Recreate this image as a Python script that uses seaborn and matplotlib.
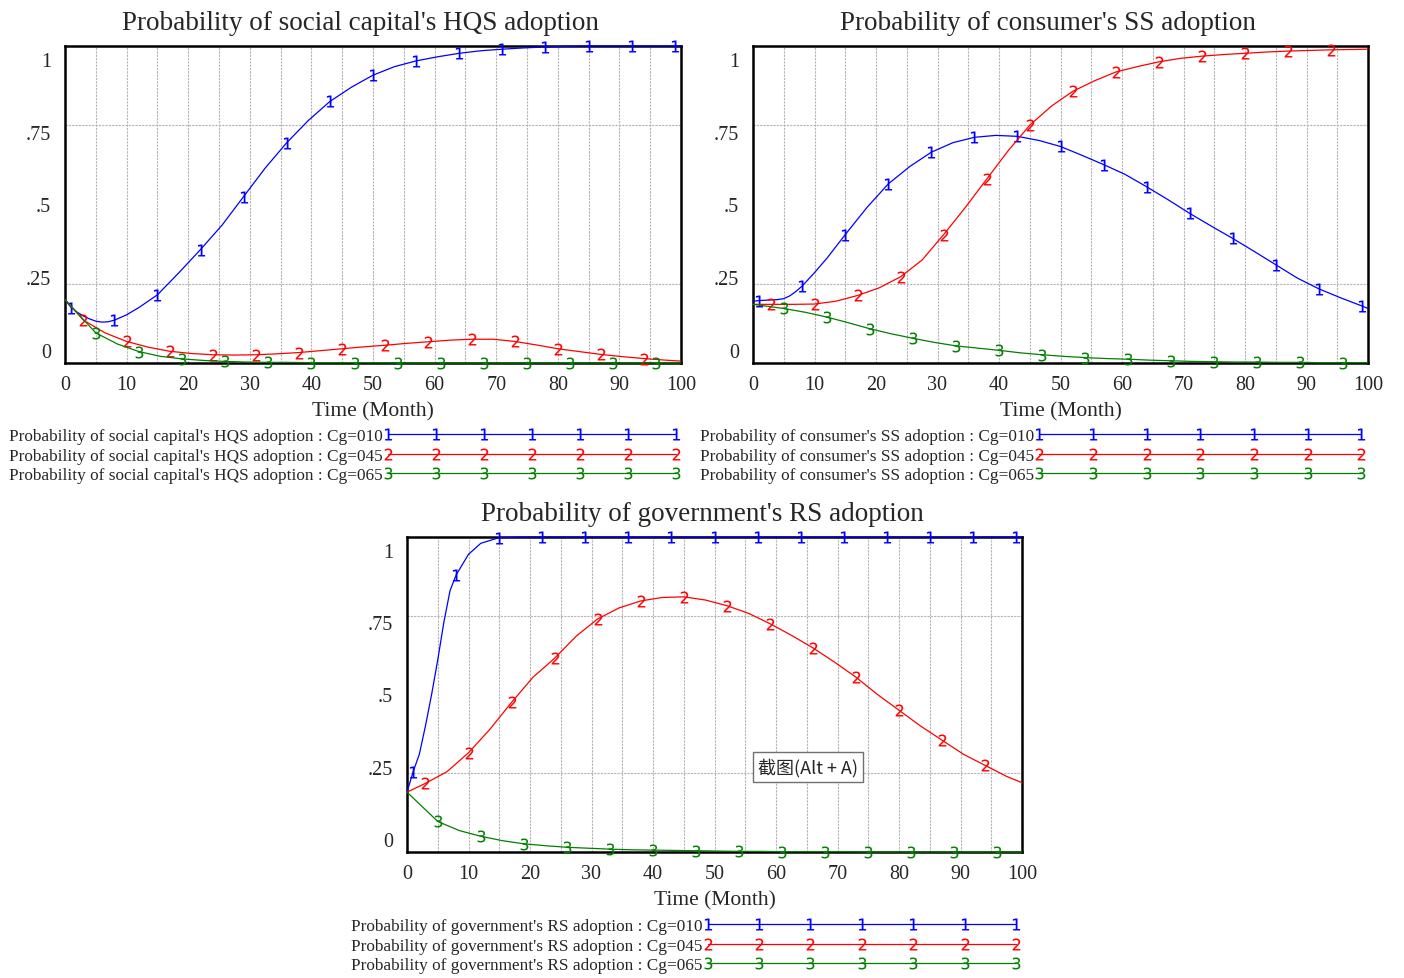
import numpy as np
import pandas as pd
import matplotlib.pyplot as plt
import seaborn as sns
from matplotlib.lines import Line2D

# ============================================================
# DATA
# ============================================================

# time points (month) of each run
T_010 = [0, 1, 2, 3, 4, 5, 6, 7, 8, 10, 12, 15, 18.5, 22, 25.5, 29, 32.5, 36,
         39.5, 43, 46.5, 50, 53.5, 57, 60.5, 64, 67.5, 71, 74.5, 78, 81.5, 85,
         88.5, 92, 95.5, 99, 100]
T_045 = [0, 3, 6.5, 10, 13.5, 17, 20.5, 24, 27.5, 31, 34.5, 38, 41.5, 45, 48.5,
         52, 55.5, 59, 62.5, 66, 69.5, 73, 76.5, 80, 83.5, 87, 90.5, 94, 97.5, 100]
T_065 = [0, 5, 8.5, 12, 15.5, 19, 22.5, 26, 29.5, 33, 36.5, 40, 43.5, 47, 50.5,
         54, 57.5, 61, 64.5, 68, 71.5, 75, 78.5, 82, 85.5, 89, 92.5, 96, 99.5, 100]

# social capital's HQS adoption
HQS_010 = [0.200, 0.175, 0.160, 0.148, 0.139, 0.132, 0.129, 0.130, 0.135, 0.152,
           0.175, 0.215, 0.285, 0.358, 0.435, 0.525, 0.615, 0.695, 0.765, 0.825,
           0.870, 0.908, 0.935, 0.953, 0.966, 0.977, 0.985, 0.990, 0.994, 0.997,
           0.999, 1.0, 1.0, 1.0, 1.0, 1.0, 1.0]
HQS_045 = [0.200, 0.135, 0.095, 0.068, 0.050, 0.037, 0.030, 0.026, 0.025, 0.026,
           0.029, 0.033, 0.039, 0.045, 0.051, 0.056, 0.062, 0.067, 0.072, 0.075,
           0.075, 0.068, 0.057, 0.045, 0.036, 0.027, 0.020, 0.014, 0.009, 0.006]
HQS_065 = [0.200, 0.095, 0.060, 0.036, 0.021, 0.013, 0.008, 0.005, 0.003, 0.002,
           0.002, 0.001, 0.001, 0.001, 0.001, 0.0, 0.0, 0.0, 0.0, 0.0,
           0.0, 0.0, 0.0, 0.0, 0.0, 0.0, 0.0, 0.0, 0.0, 0.0]

# consumer's SS adoption
SS_010 = [0.195, 0.197, 0.198, 0.199, 0.200, 0.203, 0.212, 0.226, 0.243, 0.285,
          0.330, 0.405, 0.490, 0.565, 0.620, 0.665, 0.695, 0.712, 0.718, 0.715,
          0.702, 0.683, 0.655, 0.626, 0.595, 0.556, 0.515, 0.472, 0.432, 0.393,
          0.352, 0.310, 0.268, 0.234, 0.206, 0.180, 0.172]
SS_045 = [0.185, 0.185, 0.185, 0.186, 0.195, 0.213, 0.237, 0.272, 0.325, 0.405,
          0.490, 0.580, 0.670, 0.750, 0.810, 0.857, 0.890, 0.918, 0.935, 0.950,
          0.961, 0.968, 0.973, 0.977, 0.981, 0.984, 0.986, 0.988, 0.989, 0.990]
SS_065 = [0.185, 0.172, 0.160, 0.145, 0.127, 0.108, 0.092, 0.078, 0.065, 0.054,
          0.047, 0.040, 0.032, 0.026, 0.021, 0.017, 0.014, 0.012, 0.009, 0.007,
          0.005, 0.004, 0.003, 0.003, 0.002, 0.002, 0.001, 0.001, 0.001, 0.001]

# government's RS adoption
RS_010 = [0.190, 0.255, 0.310, 0.400, 0.500, 0.610, 0.730, 0.830, 0.880, 0.945,
          0.980, 0.998, 1.0, 1.0, 1.0, 1.0, 1.0, 1.0, 1.0, 1.0,
          1.0, 1.0, 1.0, 1.0, 1.0, 1.0, 1.0, 1.0, 1.0, 1.0,
          1.0, 1.0, 1.0, 1.0, 1.0, 1.0, 1.0]
RS_045 = [0.190, 0.218, 0.255, 0.315, 0.390, 0.475, 0.555, 0.615, 0.685, 0.740,
          0.775, 0.797, 0.808, 0.810, 0.800, 0.782, 0.758, 0.725, 0.688, 0.648,
          0.603, 0.555, 0.500, 0.450, 0.400, 0.355, 0.310, 0.275, 0.240, 0.220]
RS_065 = [0.190, 0.097, 0.068, 0.050, 0.036, 0.026, 0.020, 0.015, 0.012, 0.009,
          0.007, 0.006, 0.005, 0.004, 0.003, 0.002, 0.002, 0.001, 0.001, 0.001,
          0.001, 0.0, 0.0, 0.0, 0.0, 0.0, 0.0, 0.0, 0.0, 0.0]

RUNS = ["Cg=010", "Cg=045", "Cg=065"]
TIMES = [T_010, T_045, T_065]

Y_LABELS = ["0", ".25", ".5", ".75", "1"]

# ============================================================
# STYLE
# ============================================================

COLORS = ["#0000ff", "#ff0000", "#008000"]
GLYPHS = ["$1$", "$2$", "$3$"]
FIRST_MARK = [1, 3, 5]   # Vensim puts a run number every 7 months
MARK_STEP = 7
Y_LABEL_POS = [0.04, 0.27, 0.5, 0.73, 0.96]
GRID_KW = dict(color="#b4b4b4", linestyle=(0, (2, 1)), linewidth=0.8)

sns.set_theme(style="white")
plt.rcParams["font.family"] = ["Liberation Serif", "DejaVu Sans"]
plt.rcParams["mathtext.fontset"] = "dejavusans"

W, H = 1404, 979
fig = plt.figure(figsize=(W / 100, H / 100), dpi=100)


def px_axes(left, top, right, bottom):
    return fig.add_axes([left / W, 1 - bottom / H, (right - left) / W, (bottom - top) / H])


def draw_panel(ax, title, series, leg_left, leg_top, handle_len):
    handles = []
    for t, p, color, glyph, first in zip(TIMES, series, COLORS, GLYPHS, FIRST_MARK):
        idx = [i for i, v in enumerate(t) if v >= first and (v - first) % MARK_STEP == 0]
        df = pd.DataFrame({"time": t, "prob": p})
        sns.lineplot(data=df, x="time", y="prob", ax=ax, color=color, lw=0.9,
                     marker=glyph, markevery=idx, markersize=8.5,
                     markeredgecolor=color, markeredgewidth=0.1,
                     errorbar=None, clip_on=False, zorder=3)
        handles.append(Line2D([], [], color=color, lw=0.9, marker=glyph,
                              markersize=8.5, markeredgecolor=color, markeredgewidth=0.1))

    ax.set_xlim(0, 100)
    ax.set_ylim(0, 1)
    ax.set_xticks(range(0, 101, 10))
    ax.set_xticks(range(5, 100, 10), minor=True)
    ax.set_yticks(Y_LABEL_POS, Y_LABELS)
    ax.set_yticks([0.25, 0.5, 0.75], minor=True)
    ax.grid(False)
    ax.grid(True, axis="x", which="both", **GRID_KW)
    ax.grid(True, axis="y", which="minor", **GRID_KW)
    ax.tick_params(which="both", length=0, labelsize=14.5)
    ax.tick_params(axis="x", pad=9)
    ax.tick_params(axis="y", pad=10)
    for s in ax.spines.values():
        s.set_color("black")
        s.set_linewidth(1.8)

    ax.set_title(title, fontsize=19.5, pad=12, x=0.48)
    ax.set_xlabel("Time (Month)", fontsize=15.5, labelpad=5)
    ax.set_ylabel("")

    labels = [f"{title} : {run}" for run in RUNS]
    fig.legend(handles, labels, loc="upper left",
               bbox_to_anchor=(leg_left / W, 1 - leg_top / H),
               bbox_transform=fig.transFigure, frameon=False,
               markerfirst=False, handlelength=handle_len, handletextpad=0,
               numpoints=7, fontsize=12.4, borderpad=0, borderaxespad=0,
               labelspacing=0.2)


ax1 = px_axes(65, 47, 681, 364)
ax2 = px_axes(753, 47, 1368, 364)
ax3 = px_axes(407, 538, 1022, 853)

draw_panel(ax1, "Probability of social capital's HQS adoption",
           [HQS_010, HQS_045, HQS_065], 9, 429, 17.3)
draw_panel(ax2, "Probability of consumer's SS adoption",
           [SS_010, SS_045, SS_065], 700, 429, 19.3)
draw_panel(ax3, "Probability of government's RS adoption",
           [RS_010, RS_045, RS_065], 351, 919, 18.5)

# screenshot tool tooltip captured in the original picture
ax3.text(0.652, 0.27, "截图(Alt + A)", transform=ax3.transAxes,
         ha="center", va="center", fontsize=13,
         family=["Noto Sans CJK SC", "DejaVu Sans"], zorder=5,
         bbox=dict(boxstyle="square,pad=0.3", fc="white", ec="#707070", lw=1))

plt.savefig("out.png", dpi=100)
